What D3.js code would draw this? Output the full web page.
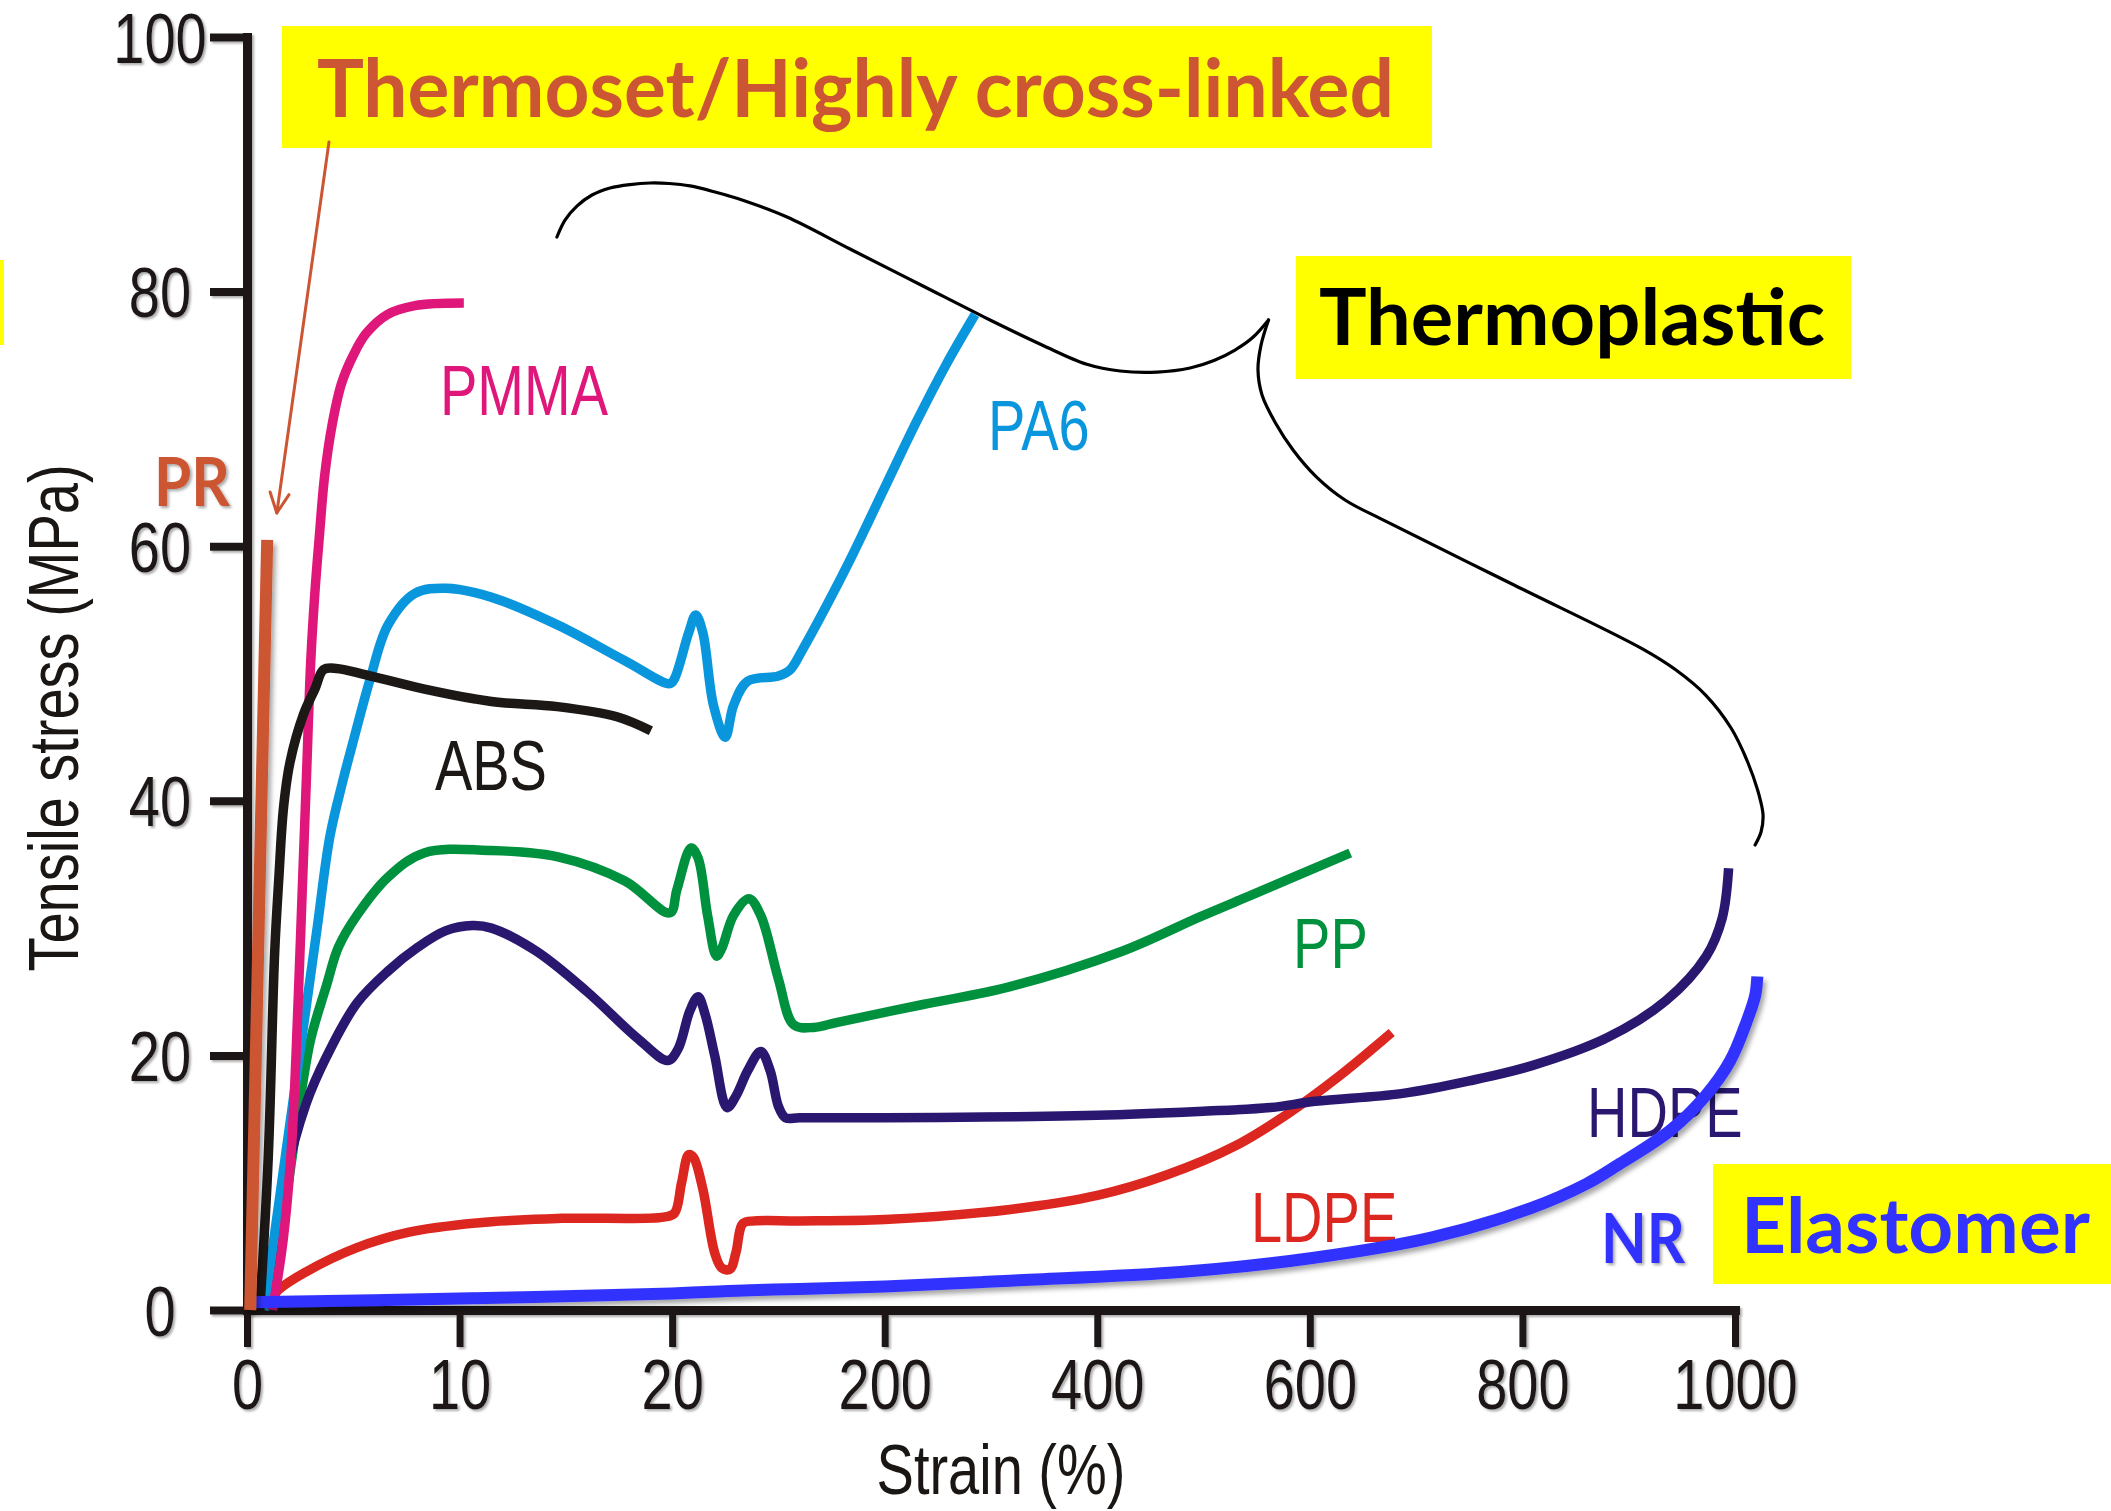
<!DOCTYPE html>
<html>
<head>
<meta charset="utf-8">
<script src="https://cdn.jsdelivr.net/npm/d3@7"></script>
<style>
  html, body { margin: 0; padding: 0; background: #fff; }
  svg { display: block; }
</style>
</head>
<body>
<script>
// ---- Data: tensile stress (MPa) vs strain (%) ----
// Strain beyond 20 % runs on a compressed, broken axis (20 → 200 → 1000).
const strainTicks = [0, 10, 20, 200, 400, 600, 800, 1000];
const stressTicks = [0, 20, 40, 60, 80, 100];

const PR = [[0.15, 0], [0.95, 60.5]];

const PMMA = [[1.2,0],[1.7,5.5],[2.1,13],[2.4,24],[2.6,33],[2.8,42],[3.0,51],[3.2,56.5],
  [3.4,60.7],[3.65,65.5],[4.0,69.5],[4.45,72.8],[5.0,75],[5.6,76.7],[6.6,78.2],[7.9,78.9],[10.2,79.1]];

const ABS = [[0.6,0],[1.0,12],[1.3,28],[1.5,34],[1.72,39.5],[2.02,43],[2.66,46.8],[3.2,48.8],
  [3.6,50.3],[4.2,50.4],[5.6,49.9],[8.3,48.8],[11.5,47.8],[14.6,47.4],[17.4,46.6],[19.0,45.5]];

const PA6 = [[0.8,0],[1.8,12],[2.8,24],[3.3,30],[3.9,37.2],[4.5,41.5],[4.97,44.5],[5.8,49.6],
  [6.63,53.8],[7.9,56.3],[9.36,56.7],[11.48,56.0],[14.63,53.8],[17.78,51.0],[19.9,49.2],
  [22,49.6],[34,53.2],[40,54.6],[46,53.2],[55,47.5],[65,45.0],[72,47.5],[84,49.4],[110,49.8],
  [120,50.3],[130,51.8],[150,55.2],[170,58.8],[200,64.6],[230,69.8],[258,74.3],[285,78.2]];

const PP = [[0.8,0],[1.4,5],[1.9,9.5],[2.5,16.5],[3.0,21.3],[3.74,25.5],[4.3,28.5],[5.17,31],
  [6.63,34],[8.33,35.9],[11.48,36.1],[14.63,35.6],[17.78,33.7],[19.9,31.2],[24,33],[36,36.3],
  [42,35.5],[50,31],[57.6,27.8],[62,28.4],[72,31],[85,32.3],[95,31],[110,26],[123,22.4],
  [140,22.2],[160,22.6],[236,24.0],[318,25.4],[424,28.2],[497,30.9],[551,32.8],[638,35.9]];

const HDPE = [[1.0,0],[1.3,4],[1.82,10.3],[2.78,16.2],[3.74,19.9],[5.17,24.1],[6.62,26.6],
  [8.04,28.5],[9.36,29.8],[10.6,30.2],[11.5,30.0],[13.6,28.2],[16.0,25.0],[18.4,21.3],[19.8,19.6],
  [25,20.5],[35,23.5],[42,24.6],[48,23.2],[56,20],[66.5,15.9],[74,16.8],[84,18.8],[95,20.3],
  [103,18.8],[110,16],[116,15.1],[128,15.1],[200,15.1],[400,15.3],[496,15.6],[563,15.9],
  [605,16.4],[686,17.0],[750,18.0],[809,19.2],[880,21.4],[935,24.3],[973,27.8],[988,30.8],[994,34.7]];

const LDPE = [[0.9,0.3],[1.5,1.6],[2.78,3.0],[5.17,4.9],[7.57,6.1],[11.2,6.9],[14.8,7.2],
  [19.6,7.3],[22,7.6],[28,10],[34,12.2],[38,12.0],[46,9.5],[56,4.5],[62,3.3],[69,3.2],[74,4.5],
  [80,6.8],[90,7.0],[128,7.0],[200,7.1],[318,7.9],[400,9.0],[465,10.6],[530,12.9],[579,15.4],
  [628,18.4],[677,21.8]];

const NR = [[0.1,0.6],[10,0.9],[20,1.3],[86,1.55],[128,1.65],[200,1.85],[318,2.3],[481,3.0],
  [604,4.1],[715,5.7],[808,8.0],[860,9.9],[890,11.4],[939,14.1],[972,16.8],[995.6,19.6],
  [1011.6,22.8],[1019,24.7],[1021,26.2]];

// Curly brace grouping the thermoplastics (strain %, stress MPa)
const braceLeft = [[14.58,84.29],[14.96,85.62],[15.52,86.72],[16.23,87.59],[17.08,88.14],
  [18.02,88.41],[18.96,88.53],[19.86,88.49],[35.16,88.3],[56.33,87.82],[81.73,87.12],
  [117.3,85.86],[170.6,83.35],[233.2,80.56],[299.1,77.77],[348.0,75.81],[390.1,74.29],
  [421.5,73.76],[456.2,73.68],[487.3,74.0],[509.8,74.59],[529.6,75.41],[546.2,76.39],[561.1,77.77]];
const braceRight = [[561.1,77.77],[554.1,75.81],[551.2,73.87],[555.0,71.88],[567.8,69.66],
  [584.2,67.56],[606.1,65.45],[633.1,63.63],[671.7,61.95],[792.1,56.95],[912.5,51.95],
  [944.5,50.27],[972.8,48.27],[996.3,45.72],[1012.3,42.97],[1022.6,40.46],[1026.4,38.88],
  [1024.5,37.55],[1018.9,36.53]];

// Arrow from the thermoset caption down to the PR curve
const prArrow = [[3.857,91.75],[1.402,62.61]];

// ---- Drawing ----
const W = 2111, H = 1511;
const ink = "#1a1614";
const axisFont = "'Liberation Sans', Arial, sans-serif";
const captionFont = "Lato, 'Open Sans', sans-serif";

const x = d3.scaleLinear()
  .domain(strainTicks)
  .range(strainTicks.map((_, i) => 247 + i * 212.57));
const y = d3.scaleLinear().domain([0, 100]).range([1310, 37]);

const svg = d3.select("body").append("svg")
  .attr("width", W).attr("height", H)
  .style("background", "#fff");

const defs = svg.append("defs");
function shadow(id, dx, dy, sd, color, op) {
  defs.append("filter").attr("id", id)
    .attr("filterUnits", "userSpaceOnUse")
    .attr("x", -W).attr("y", -H).attr("width", 3 * W).attr("height", 3 * H)
    .append("feDropShadow")
    .attr("dx", dx).attr("dy", dy).attr("stdDeviation", sd)
    .attr("flood-color", color).attr("flood-opacity", op);
}
shadow("axisShadow", 2, 2, 1.2, "#777", 0.6);
shadow("lineShadow", 3, 4, 2.5, "#000", 0.35);
shadow("textShadow", 2, 2, 1.5, "#000", 0.35);

// Cropped caption box at the far left edge
svg.append("rect").attr("x", 0).attr("y", 260).attr("width", 4).attr("height", 85).attr("fill", "#ffff00");

// Axes
const gY = svg.append("g")
  .attr("transform", `translate(${x(0)},0)`)
  .call(d3.axisLeft(y).tickValues(stressTicks).tickSize(37).tickSizeOuter(0));
const gX = svg.append("g")
  .attr("transform", `translate(0,${y(0)})`)
  .call(d3.axisBottom(x).tickValues(strainTicks).tickSize(37).tickSizeOuter(0).tickFormat(d => d));

[gX, gY].forEach(g => {
  g.attr("filter", "url(#axisShadow)");
  g.select(".domain").attr("stroke", ink).attr("stroke-width", 9).attr("stroke-linecap", "square");
  g.selectAll(".tick line").attr("stroke", ink);
  g.selectAll(".tick text")
    .attr("fill", ink).attr("font-family", axisFont).attr("font-size", 70);
});
gX.selectAll(".tick line").attr("stroke-width", 7);
gY.selectAll(".tick line").attr("stroke-width", 8);
gX.selectAll(".tick text")
  .attr("y", 99).attr("dy", null).attr("text-anchor", "middle")
  .attr("transform", "scale(0.8,1)");
gY.selectAll(".tick text")
  .attr("x", 0).attr("dy", "0.357em").attr("text-anchor", "middle")
  .attr("transform", "translate(-87,0) scale(0.8,1)");

// Axis titles
svg.append("text")
  .attr("transform", "translate(1001,1494) scale(0.8,1)")
  .attr("text-anchor", "middle")
  .attr("font-family", axisFont).attr("font-size", 70).attr("fill", ink)
  .text("Strain (%)");
svg.append("text")
  .attr("transform", "translate(78,718) rotate(-90) scale(0.8,1)")
  .attr("text-anchor", "middle")
  .attr("font-family", axisFont).attr("font-size", 70).attr("fill", ink)
  .text("Tensile stress (MPa)");

// Curves
const line = d3.line()
  .x(d => x(d[0])).y(d => y(d[1]))
  .curve(d3.curveCatmullRom.alpha(0.5));

const curves = [
  { data: PP,   color: "#00913f", width: 9.5 },
  { data: LDPE, color: "#dc2620", width: 9.5 },
  { data: HDPE, color: "#2a1870", width: 9.5 },
  { data: PA6,  color: "#0a96dc", width: 9.5 },
  { data: PMMA, color: "#e0177b", width: 9.5 },
  { data: ABS,  color: "#1c1816", width: 9.5 }
];

// Curve labels (anchored in data space)
const labels = [
  { text: "PMMA", at: [9.08, 70.3],  color: "#e0177b" },
  { text: "ABS",  at: [8.84, 40.85], color: "#1c1816" },
  { text: "PA6",  at: [297.2, 67.56], color: "#0a96dc" },
  { text: "PP",   at: [584.2, 26.87], color: "#00913f" },
  { text: "HDPE", at: [860.8, 13.59], color: "#2a1870" },
  { text: "LDPE", at: [544.6, 5.34],  color: "#dc2620" }
];
labels.forEach(l => {
  svg.append("text")
    .attr("transform", `translate(${x(l.at[0])},${y(l.at[1])}) scale(0.8,1)`)
    .attr("font-family", axisFont).attr("font-size", 70).attr("fill", l.color)
    .text(l.text);
});

curves.forEach(c => {
  svg.append("path").datum(c.data)
    .attr("d", line).attr("fill", "none")
    .attr("stroke", c.color).attr("stroke-width", c.width)
    .attr("stroke-linejoin", "round").attr("stroke-linecap", "butt");
});

// Natural rubber (elastomer)
svg.append("path").datum(NR)
  .attr("d", line).attr("fill", "none")
  .attr("stroke", "#3333ff").attr("stroke-width", 12)
  .attr("stroke-linecap", "butt").attr("filter", "url(#lineShadow)");

// Phenolic resin (thermoset)
svg.append("path").datum(PR)
  .attr("d", d3.line().x(d => x(d[0])).y(d => y(d[1])))
  .attr("fill", "none").attr("stroke", "#cc5533").attr("stroke-width", 12)
  .attr("stroke-linecap", "butt").attr("filter", "url(#lineShadow)");

// PR and NR labels
svg.append("text")
  .attr("x", x(-4.375)).attr("y", y(63.16))
  .attr("font-family", captionFont).attr("font-weight", 700).attr("font-size", 66)
  .attr("textLength", 76).attr("lengthAdjust", "spacingAndGlyphs")
  .attr("fill", "#cc5533").attr("filter", "url(#textShadow)")
  .text("PR");
svg.append("text")
  .attr("x", x(874)).attr("y", y(3.69))
  .attr("font-family", captionFont).attr("font-weight", 700).attr("font-size", 69)
  .attr("textLength", 84).attr("lengthAdjust", "spacingAndGlyphs")
  .attr("fill", "#3333ff").attr("filter", "url(#textShadow)")
  .text("NR");

// Brace around the thermoplastics
const braceLine = d3.line().x(d => x(d[0])).y(d => y(d[1])).curve(d3.curveCatmullRom.alpha(0.5));
[braceLeft, braceRight].forEach(b => {
  svg.append("path").datum(b).attr("d", braceLine)
    .attr("fill", "none").attr("stroke", "#000").attr("stroke-width", 3.2)
    .attr("stroke-linecap", "round");
});

// Caption boxes
const captions = [
  { box: [282, 26, 1150, 122], text: "Thermoset/Highly cross-linked", tx: 317, ty: 117, len: 1077, size: 80, color: "#cc5533" },
  { box: [1296, 256, 555, 123], text: "Thermoplastic", tx: 1319, ty: 345, len: 506, size: 78, color: "#000000" },
  { box: [1713, 1164, 398, 120], text: "Elastomer", tx: 1741, ty: 1253, len: 349, size: 77, color: "#3333ff" }
];
captions.forEach(c => {
  svg.append("rect")
    .attr("x", c.box[0]).attr("y", c.box[1]).attr("width", c.box[2]).attr("height", c.box[3])
    .attr("fill", "#ffff00");
  svg.append("text")
    .attr("x", c.tx).attr("y", c.ty)
    .attr("font-family", captionFont).attr("font-weight", 700).attr("font-size", c.size)
    .attr("textLength", c.len).attr("lengthAdjust", "spacingAndGlyphs")
    .attr("fill", c.color)
    .text(c.text);
});

// Arrow to PR
const a0 = [x(prArrow[0][0]), y(prArrow[0][1])];
const a1 = [x(prArrow[1][0]), y(prArrow[1][1])];
const ang = Math.atan2(a1[1] - a0[1], a1[0] - a0[0]);
const headLen = 22, headSpread = 0.45;
const arrowG = svg.append("g").attr("stroke", "#cc5533").attr("stroke-width", 3).attr("fill", "none")
  .attr("stroke-linecap", "round").attr("stroke-linejoin", "round");
arrowG.append("line").attr("x1", a0[0]).attr("y1", a0[1]).attr("x2", a1[0]).attr("y2", a1[1]);
arrowG.append("path").attr("d",
  `M${a1[0] - headLen * Math.cos(ang - headSpread)},${a1[1] - headLen * Math.sin(ang - headSpread)}` +
  `L${a1[0]},${a1[1]}` +
  `L${a1[0] - headLen * Math.cos(ang + headSpread)},${a1[1] - headLen * Math.sin(ang + headSpread)}`);
</script>
</body>
</html>
